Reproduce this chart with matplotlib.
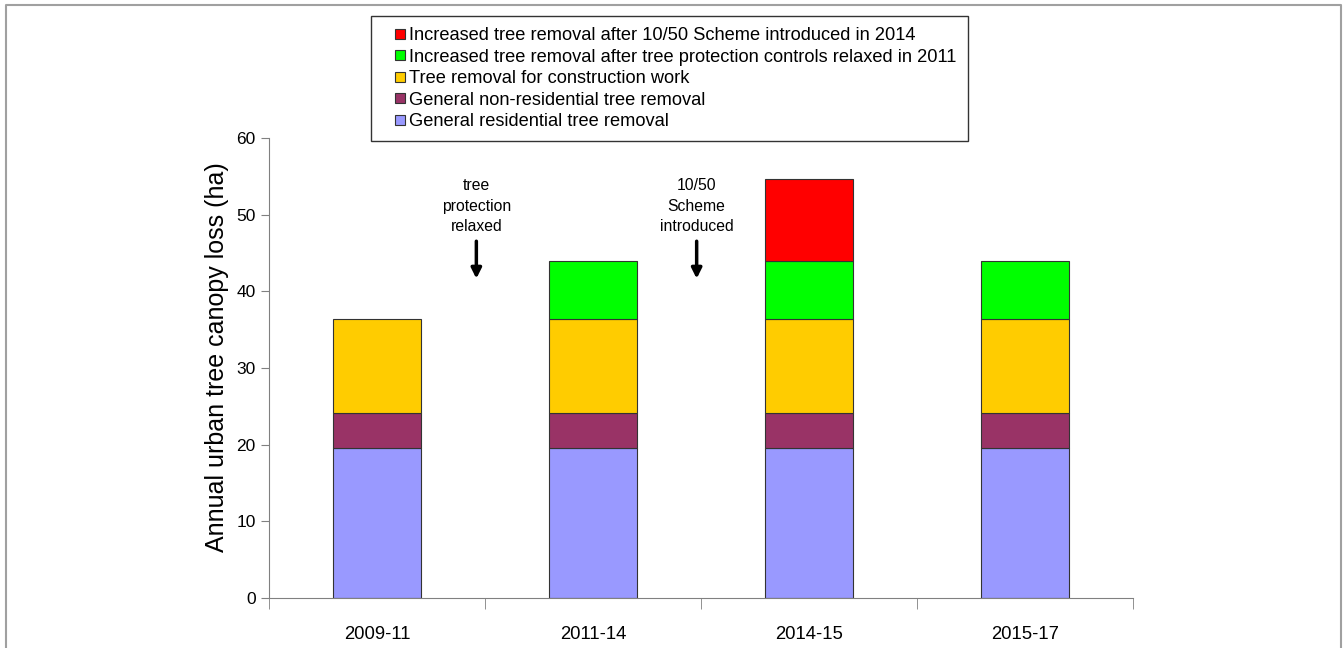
import numpy as np
import matplotlib
matplotlib.use('Agg')
from matplotlib import pyplot as plt
from matplotlib.lines import Line2D

plt.rcParams['font.family'] = ['Liberation Sans', 'DejaVu Sans']

periods = ['2009-11', '2011-14', '2014-15', '2015-17']
residential = [19.6, 19.6, 19.6, 19.6]
non_residential = [4.5, 4.5, 4.5, 4.5]
construction = [12.3, 12.3, 12.3, 12.3]
after_2011 = [0, 7.55, 7.55, 7.55]
after_2014 = [0, 0, 10.7, 0]

series = [
    ('General residential tree removal', residential, '#9999ff'),
    ('General non-residential tree removal', non_residential, '#993366'),
    ('Tree removal for construction work', construction, '#ffcc00'),
    ('Increased tree removal after tree protection controls relaxed in 2011', after_2011, '#00ff00'),
    ('Increased tree removal after 10/50 Scheme introduced in 2014', after_2014, '#ff0000'),
]

fig = plt.figure(figsize=(13.43, 6.48), dpi=100)
ax = fig.add_axes([0.2003, 0.0772, 0.6433, 0.7098])

x = np.arange(len(periods))
bottom = np.zeros(len(periods))
handles = []
for name, vals, col in series:
    vals = np.array(vals)
    mask = vals > 0
    ax.bar(x[mask], vals[mask], 0.41, bottom=bottom[mask], color=col,
           edgecolor='#333333', linewidth=0.8)
    bottom += vals
    handles.append(Line2D([], [], marker='s', linestyle='none', markersize=7,
                          markerfacecolor=col, markeredgecolor='#333333',
                          markeredgewidth=0.8, label=name))

ax.set_xlim(-0.5, 3.5)
ax.set_ylim(0, 60)
ax.set_yticks(range(0, 61, 10))
ax.set_xticks(x)
ax.set_xticklabels(periods)
ax.set_xticks(np.arange(-0.5, 3.6, 1), minor=True)
ax.tick_params(axis='x', which='major', length=0, pad=20, labelsize=13.3)
ax.tick_params(axis='x', which='minor', length=8, direction='out', color='#808080')
ax.tick_params(axis='y', length=6, direction='out', color='#808080', labelsize=12.5)
for s in ['top', 'right']:
    ax.spines[s].set_visible(False)
for s in ['left', 'bottom']:
    ax.spines[s].set_color('#808080')
ax.set_ylabel('Annual urban tree canopy loss (ha)', fontsize=18)
ax.yaxis.set_label_coords(-0.046, 0.523)

# event markers
ax.text(0.46, 51.1, 'tree\nprotection\nrelaxed', ha='center', va='center',
        fontsize=11.3, linespacing=1.45)
ax.annotate('', xy=(0.46, 41.3), xytext=(0.46, 46.9),
            arrowprops=dict(arrowstyle='-|>', color='black', lw=2.5, mutation_scale=15))
ax.text(1.48, 51.1, '10/50\nScheme\nintroduced', ha='center', va='center',
        fontsize=11.3, linespacing=1.45)
ax.annotate('', xy=(1.48, 41.3), xytext=(1.48, 46.9),
            arrowprops=dict(arrowstyle='-|>', color='black', lw=2.5, mutation_scale=15))

leg = fig.legend(handles=handles[::-1], loc='upper left',
                 bbox_to_anchor=(371 / 1343, 1 - 16 / 648), borderaxespad=0,
                 fontsize=13.15, frameon=True, fancybox=False, edgecolor='black',
                 borderpad=0.6, handletextpad=-0.5, labelspacing=0.25,
                 handlelength=2.0)
leg.get_frame().set_linewidth(1.0)

# outer frame (left, top, right)
fig.add_artist(Line2D([0.0045, 0.0045, 0.9985, 0.9985], [0.0, 0.9925, 0.9925, 0.0],
                      transform=fig.transFigure, color='#a0a0a0', lw=1.5))

fig.savefig('out.png', dpi=100)
